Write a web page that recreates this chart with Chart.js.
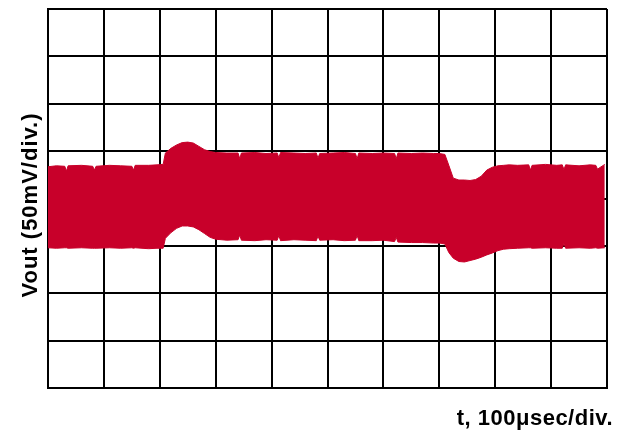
<!DOCTYPE html>
<html>
<head>
<meta charset="utf-8">
<script src="https://cdn.jsdelivr.net/npm/chart.js@4"></script>
<style>
  body { margin: 0; background: #fff; }
</style>
</head>
<body>
<canvas id="scope" width="625" height="430"></canvas>
<script>
// time in divisions (100 usec/div), envelope of the ripple in divisions (50 mV/div)
const times = [
  0, 0.15, 0.3, 0.33, 0.36, 0.6, 0.8, 0.83, 0.86, 1.1, 1.3, 1.5, 1.53, 1.56, 1.8, 1.95, 2.06,
  2.1, 2.2, 2.3, 2.4, 2.5, 2.6, 2.7, 2.8, 2.9, 3.0,
  3.2, 3.4, 3.43, 3.46, 3.7, 3.9, 4.1, 4.13, 4.16, 4.4, 4.6, 4.8, 4.83, 4.86, 5.1, 5.3, 5.5, 5.53, 5.56, 5.8, 6.0, 6.2, 6.23, 6.26, 6.5, 6.7, 6.9, 7.0,
  7.1, 7.17, 7.25, 7.35, 7.45, 7.55, 7.65, 7.75, 7.85, 7.95, 8.05, 8.15, 8.25,
  8.4, 8.6, 8.63, 8.66, 8.9, 9.1, 9.2, 9.23, 9.26, 9.5, 9.7, 9.8, 9.83, 9.96
];
const upper = [
  0.67, 0.69, 0.68, 0.58, 0.69, 0.70, 0.68, 0.60, 0.68, 0.70, 0.69, 0.68, 0.60, 0.70, 0.70, 0.71, 0.72,
  0.96, 1.06, 1.13, 1.18, 1.19, 1.17, 1.10, 1.03, 0.99, 0.97,
  0.96, 0.96, 0.84, 0.96, 0.97, 0.95, 0.96, 0.86, 0.97, 0.96, 0.95, 0.96, 0.85, 0.95, 0.96, 0.97, 0.95, 0.84, 0.96, 0.95, 0.96, 0.95, 0.84, 0.96, 0.95, 0.96, 0.95, 0.95,
  0.93, 0.70, 0.43, 0.39, 0.39, 0.38, 0.40, 0.47, 0.60, 0.66, 0.69, 0.70, 0.71,
  0.70, 0.71, 0.60, 0.70, 0.72, 0.70, 0.71, 0.61, 0.71, 0.69, 0.71, 0.70, 0.62, 0.72
];
const lower = [
  -1.04, -1.05, -1.04, -1.04, -1.05, -1.04, -1.05, -1.05, -1.05, -1.04, -1.05, -1.04, -1.05, -1.04, -1.06, -1.05, -1.05,
  -0.84, -0.72, -0.63, -0.58, -0.58, -0.60, -0.66, -0.74, -0.82, -0.86,
  -0.88, -0.87, -0.77, -0.88, -0.89, -0.87, -0.88, -0.78, -0.89, -0.87, -0.88, -0.89, -0.79, -0.88, -0.87, -0.89, -0.88, -0.78, -0.89, -0.89, -0.88, -0.91, -0.82, -0.92, -0.93, -0.93, -0.94, -0.94,
  -0.96, -1.14, -1.26, -1.33, -1.34, -1.31, -1.28, -1.24, -1.19, -1.15, -1.10, -1.07, -1.06,
  -1.05, -1.04, -1.04, -1.05, -1.04, -1.05, -1.05, -0.95, -1.05, -1.04, -1.05, -1.04, -1.05, -1.04
];
const xTitle = 't, 100\u03bcsec/div.';
const yTitle = 'Vout (50mV/div.)';

const red = '#c8002a';

// axis titles placed by hand, like on the scope plot
const titles = {
  id: 'titles',
  afterDraw(chart) {
    const ctx = chart.ctx;
    ctx.save();
    ctx.fillStyle = '#000';
    ctx.font = 'bold 22px "Liberation Sans", Arial, sans-serif';
    ctx.letterSpacing = '0.5px';
    ctx.textAlign = 'right';
    ctx.textBaseline = 'alphabetic';
    ctx.fillText(xTitle, 613, 425);
    ctx.letterSpacing = '1px';
    ctx.translate(37, 205);
    ctx.rotate(-Math.PI / 2);
    ctx.textAlign = 'center';
    ctx.fillText(yTitle, 0, 0);
    ctx.restore();
  }
};

new Chart(document.getElementById('scope'), {
  type: 'line',
  data: {
    datasets: [{
      label: 'upper',
      data: times.map((t, i) => ({ x: t, y: upper[i] })),
      borderColor: red,
      backgroundColor: red,
      borderWidth: 1,
      pointRadius: 0,
      fill: '+1',
      tension: 0
    }, {
      label: 'lower',
      data: times.map((t, i) => ({ x: t, y: lower[i] })),
      borderColor: red,
      borderWidth: 1,
      pointRadius: 0,
      fill: false,
      tension: 0
    }]
  },
  options: {
    responsive: false,
    animation: false,
    layout: { padding: { left: 48, right: 18, top: 9, bottom: 42 } },
    plugins: { legend: { display: false }, tooltip: { enabled: false } },
    scales: {
      x: {
        type: 'linear', min: 0, max: 10,
        ticks: { display: false, stepSize: 1 },
        grid: { color: '#000', lineWidth: 2, drawTicks: false },
        border: { color: '#000', width: 2 }
      },
      y: {
        min: -4, max: 4,
        ticks: { display: false, stepSize: 1 },
        grid: { color: '#000', lineWidth: 2, drawTicks: false },
        border: { color: '#000', width: 2 }
      }
    }
  },
  plugins: [titles]
});
</script>
</body>
</html>
